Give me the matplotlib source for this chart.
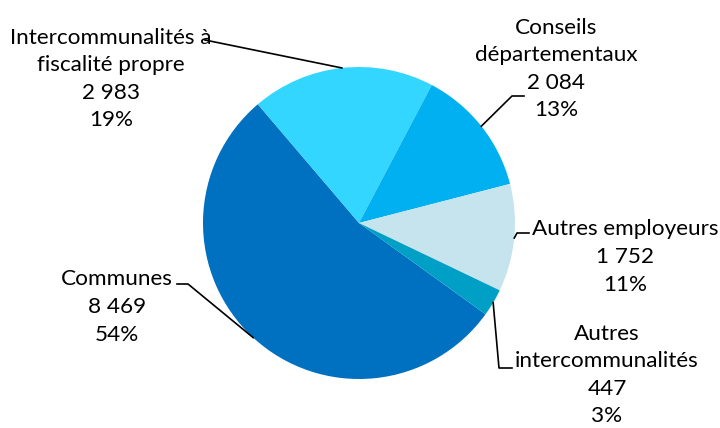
import numpy as np
import matplotlib
matplotlib.use("Agg")
import matplotlib.pyplot as plt

# données (effectifs)
categories = ["Communes", "Intercommunalités à\nfiscalité propre", "Conseils\ndépartementaux",
              "Autres employeurs", "Autres\nintercommunalités"]
valeurs = [8469, 2983, 2084, 1752, 447]
pourcentages = ["54%", "19%", "13%", "11%", "3%"]
couleurs = ["#0070C0", "#33D6FF", "#00B0F0", "#C5E4EE", "#00A0C6"]

# mise en page (pixels, y vers le haut)
W, H = 720, 428
centre = (359, 205)
rayon = 156
pos_texte = [(117, 121), (111, 349), (556, 359), (625, 171), (607, 53)]
# coude de la ligne de rappel puis extrémité côté texte (None = ligne droite)
coudes = [(188, 144), None, (512, 332), (517, 195), (499, 60)]
fins = [(177, 144), (205, 388), (524, 332), (529, 195), (512, 60)]

def fmt(v):
    return f"{v:,}".replace(",", " ")

plt.rcParams['font.family'] = ['Lato', 'DejaVu Sans']
fig = plt.figure(figsize=(W / 100, H / 100), dpi=100)
ax = fig.add_axes([0, 0, 1, 1])

wedges, _ = ax.pie(valeurs, colors=couleurs, startangle=-35.8, counterclock=False,
                   center=centre, radius=rayon, frame=True,
                   wedgeprops=dict(linewidth=0))

for w, cat, v, p, xy, coude, fin in zip(wedges, categories, valeurs, pourcentages,
                                         pos_texte, coudes, fins):
    a = np.deg2rad((w.theta1 + w.theta2) / 2)
    bord = (centre[0] + rayon * np.cos(a), centre[1] + rayon * np.sin(a))
    pts = [bord] + ([coude] if coude else []) + [fin]
    xs, ys = zip(*pts)
    ax.plot(xs, ys, color="black", lw=1.2)
    ax.text(xy[0], xy[1], f"{cat}\n{fmt(v)}\n{p}", ha="center", va="center",
            fontsize=16.2, linespacing=1.47, color="black")

ax.set_xlim(0, W)
ax.set_ylim(0, H)
ax.axis("off")
fig.savefig("out.png", dpi=100)
